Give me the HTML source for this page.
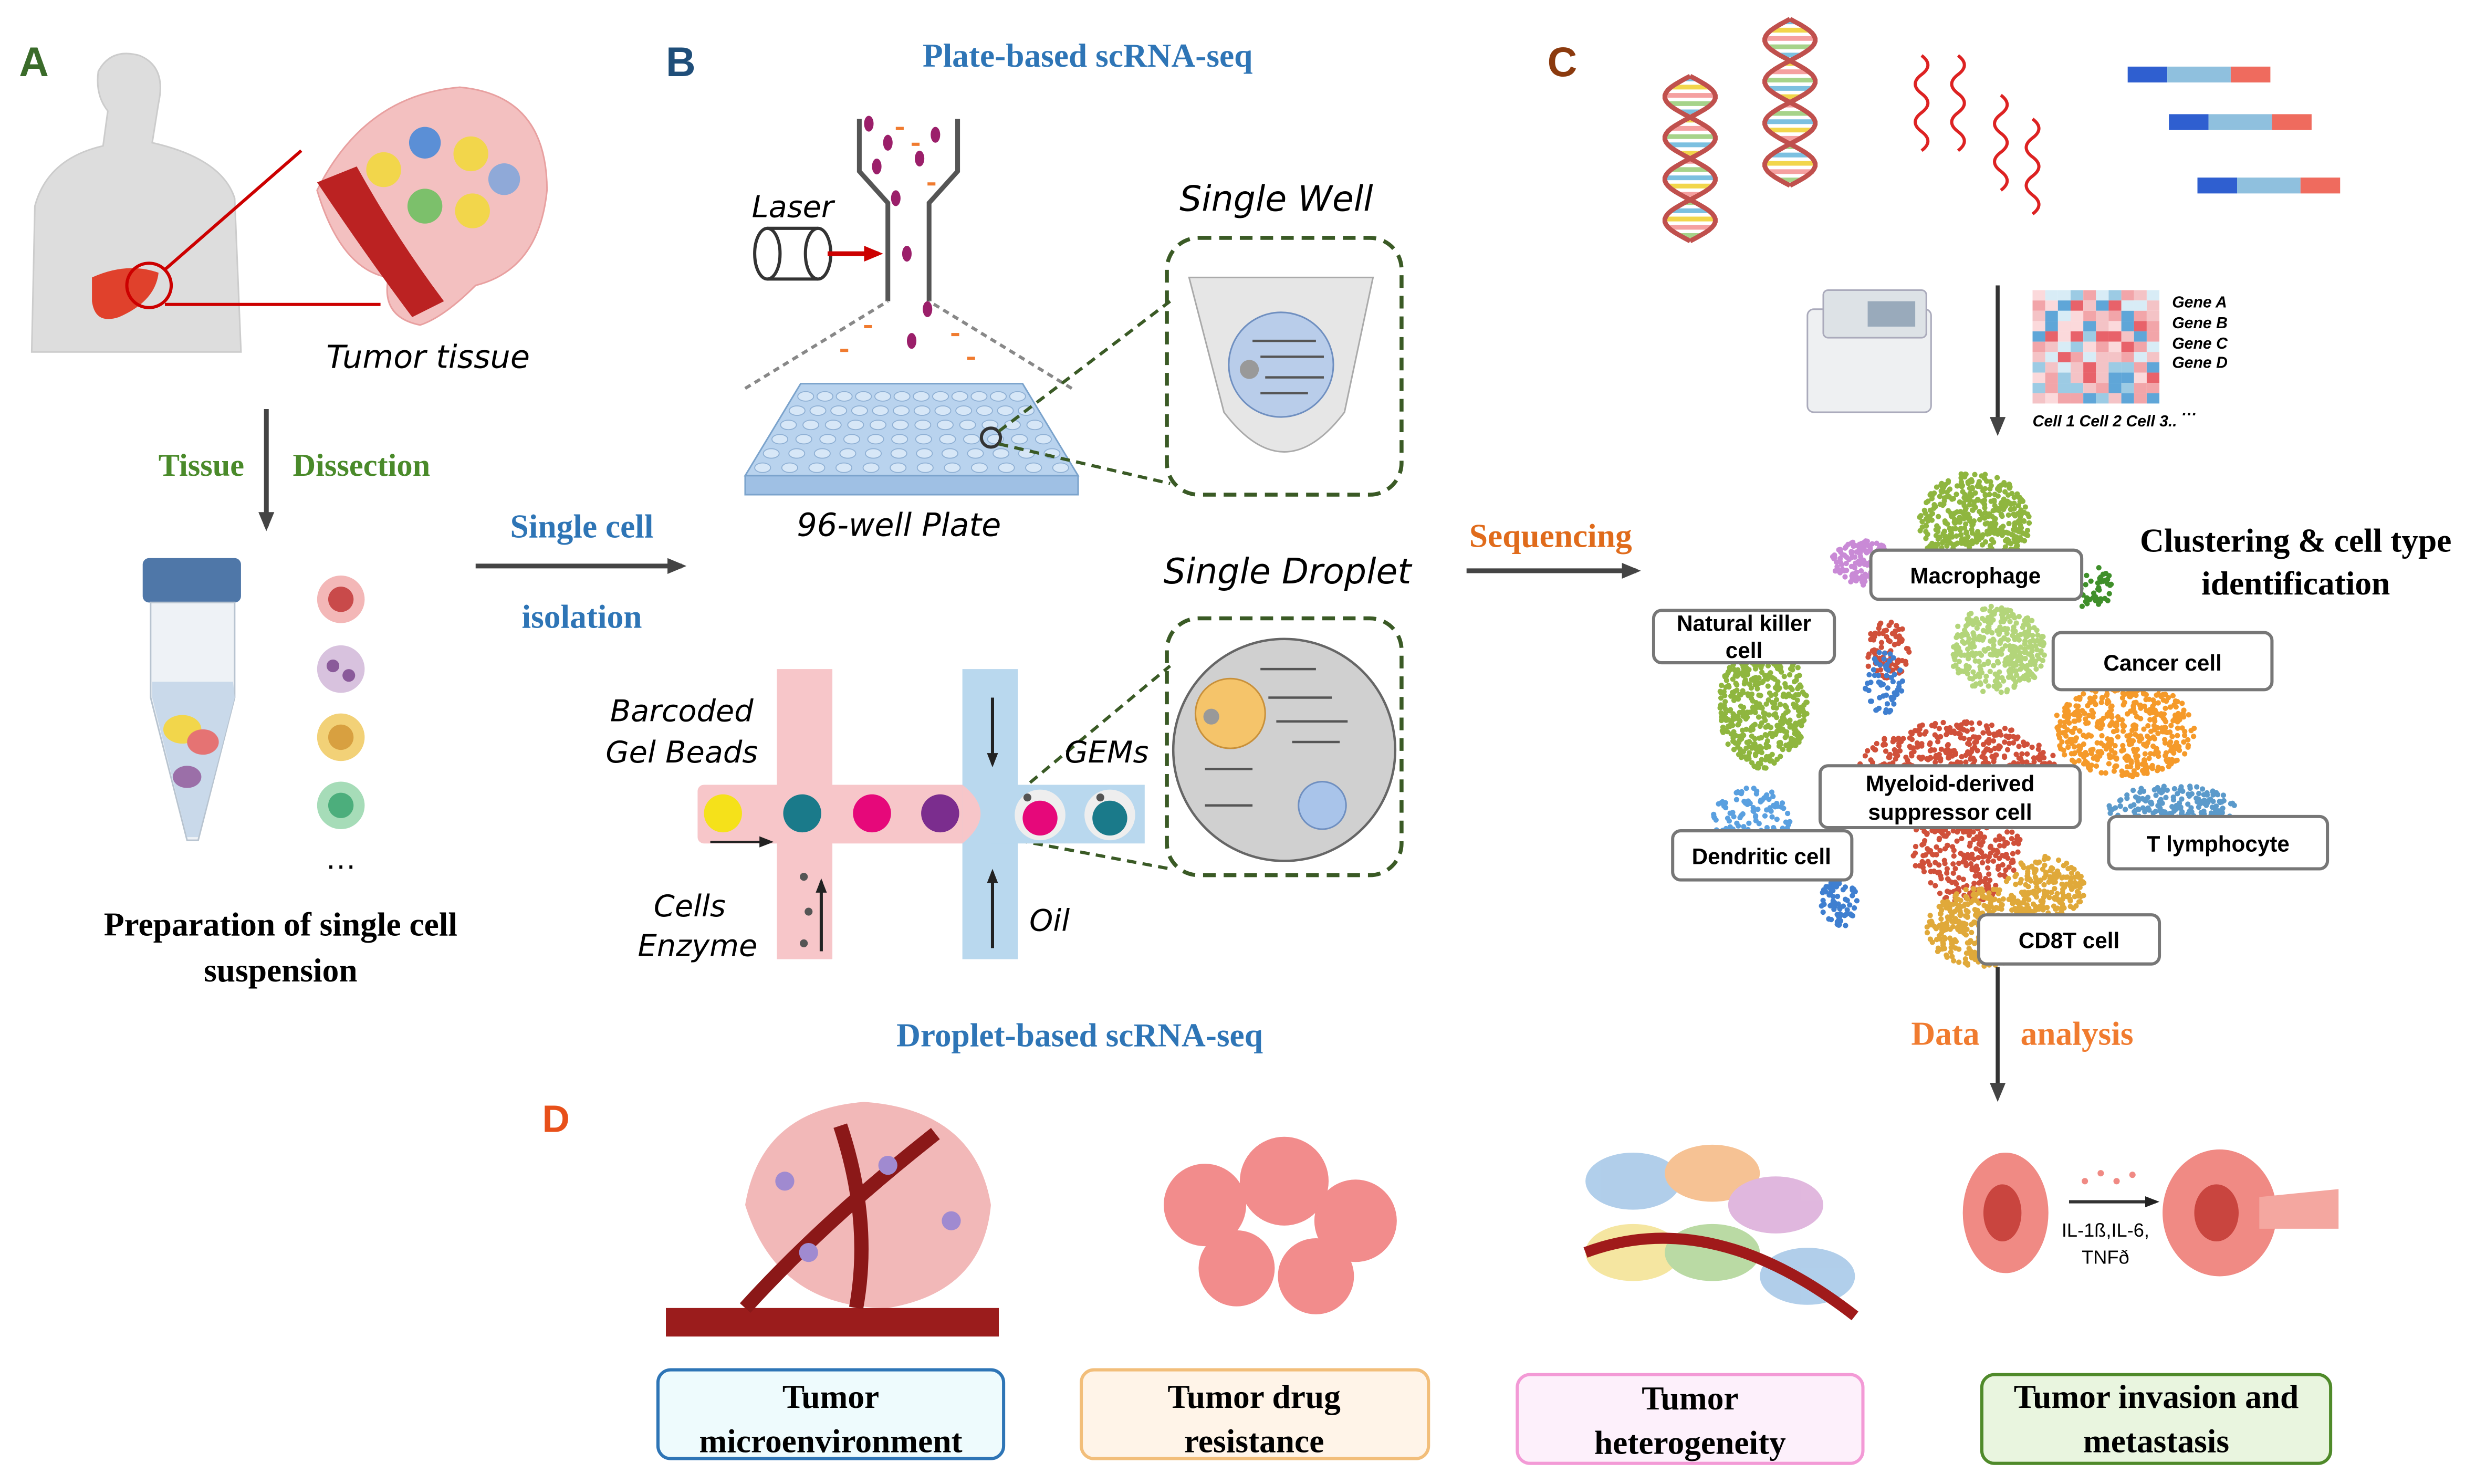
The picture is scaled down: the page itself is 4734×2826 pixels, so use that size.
<!DOCTYPE html>
<html><head><meta charset="utf-8"><style>
html,body{margin:0;padding:0;background:#fff;}
svg{display:block;}
.sf{font-family:"Liberation Serif",serif;font-weight:bold;}
.hand{font-family:"DejaVu Sans",sans-serif;font-style:italic;}
.lab{font-family:"Liberation Sans",sans-serif;font-weight:bold;font-size:14px;}
</style></head><body>
<svg id="s" width="4734" height="2826" viewBox="0 0 1568 936" xmlns="http://www.w3.org/2000/svg">
<defs>
<marker id="ah" markerWidth="12" markerHeight="12" refX="9" refY="6" orient="auto" markerUnits="userSpaceOnUse"><path d="M0,1 L12,6 L0,11 z" fill="#444"/></marker>
<marker id="ahs" markerWidth="9" markerHeight="9" refX="7" refY="4.5" orient="auto" markerUnits="userSpaceOnUse"><path d="M0,1 L9,4.5 L0,8 z" fill="#222"/></marker>
<marker id="ahr" markerWidth="12" markerHeight="12" refX="9" refY="6" orient="auto" markerUnits="userSpaceOnUse"><path d="M0,1 L12,6 L0,11 z" fill="#c00"/></marker>
</defs>
<!-- A -->
<text x="12" y="48" font-family="Liberation Sans" font-weight="bold" font-size="26" fill="#3a6b2a">A</text>
<path d="M20,222 L22,130 Q30,100 65,92 L68,70 Q60,60 62,45 Q70,30 88,35 Q105,42 100,65 L96,90 Q140,100 148,125 L152,222 Z" fill="#ddd" stroke="#ccc"/>
<path d="M58,175 Q80,165 100,172 Q98,190 75,200 Q60,205 58,190 Z" fill="#e0412c"/>
<circle cx="94" cy="180" r="14" fill="none" stroke="#c00" stroke-width="2"/>
<line x1="104" y1="170" x2="190" y2="95" stroke="#c00" stroke-width="2"/>
<line x1="104" y1="192" x2="240" y2="192" stroke="#c00" stroke-width="2"/>
<path d="M200,120 Q230,60 290,55 Q345,60 345,120 Q340,170 300,180 Q280,200 265,205 Q240,200 245,175 Q215,170 200,120 Z" fill="#f3c0c0" stroke="#e8a0a0"/>
<path d="M200,115 Q230,160 260,200 L280,190 Q250,150 225,105 Z" fill="#b22" />
<circle cx="242" cy="107" r="11" fill="#f2d64b"/><circle cx="268" cy="90" r="10" fill="#5b8fd6"/><circle cx="297" cy="97" r="11" fill="#f2d64b"/><circle cx="268" cy="130" r="11" fill="#7cc06b"/><circle cx="298" cy="133" r="11" fill="#f2d64b"/><circle cx="318" cy="113" r="10" fill="#8fa9d8"/>
<text x="270" y="232" class="hand" font-size="20" text-anchor="middle">Tumor tissue</text>
<line x1="168" y1="258" x2="168" y2="332" stroke="#444" stroke-width="3" marker-end="url(#ah)"/>
<text x="127" y="300" class="sf" font-size="20" fill="#4a8a2a" text-anchor="middle">Tissue</text>
<text x="228" y="300" class="sf" font-size="20" fill="#4a8a2a" text-anchor="middle">Dissection</text>
<rect x="90" y="352" width="62" height="28" rx="4" fill="#4f77a8"/>
<path d="M95,380 L148,380 L148,440 L125,530 L118,530 L95,440 Z" fill="#eef2f6" stroke="#b8c4d0"/>
<path d="M96,430 L147,430 L148,440 L125,528 L118,528 L96,440 Z" fill="#c9d9ea"/>
<ellipse cx="115" cy="460" rx="12" ry="9" fill="#f2d64b"/><ellipse cx="128" cy="468" rx="10" ry="8" fill="#e57373"/><ellipse cx="118" cy="490" rx="9" ry="7" fill="#9b6fa8"/>
<circle cx="215" cy="378" r="15" fill="#f3b7b7"/><circle cx="215" cy="378" r="8" fill="#c94a4a"/>
<circle cx="215" cy="422" r="15" fill="#d8c2de"/><circle cx="210" cy="420" r="4" fill="#8a5a9a"/><circle cx="220" cy="426" r="4" fill="#8a5a9a"/>
<circle cx="215" cy="465" r="15" fill="#f2d177"/><circle cx="215" cy="465" r="8" fill="#d8a040"/>
<circle cx="215" cy="508" r="15" fill="#a6dcb8"/><circle cx="215" cy="508" r="8" fill="#4cae7c"/>
<text x="215" y="548" font-size="20" text-anchor="middle" font-family="Liberation Sans">…</text>
<text x="177" y="590" class="sf" font-size="21" text-anchor="middle">Preparation of single cell</text>
<text x="177" y="619" class="sf" font-size="21" text-anchor="middle">suspension</text>
<line x1="300" y1="357" x2="430" y2="357" stroke="#444" stroke-width="3" marker-end="url(#ah)"/>
<text x="367" y="339" class="sf" font-size="21" fill="#2e75b6" text-anchor="middle">Single cell</text>
<text x="367" y="396" class="sf" font-size="21" fill="#2e75b6" text-anchor="middle">isolation</text>
<!-- B -->
<text x="420" y="48" font-family="Liberation Sans" font-weight="bold" font-size="26" fill="#1f4e79">B</text>
<text x="686" y="42" class="sf" font-size="21" fill="#2e75b6" text-anchor="middle">Plate-based scRNA-seq</text>
<path d="M542,75 L542,108 L560,128 L560,190 M604,75 L604,108 L586,128 L586,190" fill="none" stroke="#555" stroke-width="3"/>
<path d="M470,245 L560,190 M676,245 L586,190" stroke="#888" stroke-width="2" stroke-dasharray="4,3" fill="none"/>
<g fill="#9b1f6a"><ellipse cx="560" cy="90" rx="3" ry="5"/><ellipse cx="580" cy="100" rx="3" ry="5"/><ellipse cx="572" cy="160" rx="3" ry="5"/><ellipse cx="575" cy="215" rx="3" ry="5"/><ellipse cx="553" cy="105" rx="3" ry="5"/><ellipse cx="590" cy="85" rx="3" ry="5"/><ellipse cx="565" cy="125" rx="3" ry="5"/><ellipse cx="585" cy="195" rx="3" ry="5"/><ellipse cx="548" cy="78" rx="3" ry="5"/></g>
<g fill="#f07b2f"><rect x="565" y="80" width="5" height="2"/><rect x="585" y="115" width="5" height="2"/><rect x="600" y="210" width="5" height="2"/><rect x="545" y="205" width="5" height="2"/><rect x="575" y="90" width="5" height="2"/><rect x="610" y="225" width="5" height="2"/><rect x="530" y="220" width="5" height="2"/></g>
<text x="500" y="137" class="hand" font-size="19" text-anchor="middle">Laser</text>
<ellipse cx="484" cy="160" rx="8" ry="16" fill="#fff" stroke="#333" stroke-width="2"/>
<path d="M484,144 L516,144 M484,176 L516,176" stroke="#333" stroke-width="2"/>
<ellipse cx="516" cy="160" rx="8" ry="16" fill="#fff" stroke="#333" stroke-width="2"/>
<line x1="522" y1="160" x2="554" y2="160" stroke="#c00" stroke-width="3" marker-end="url(#ahr)"/>
<path d="M470,300 L505,242 L645,242 L680,300 Z" fill="#b9d3ee" stroke="#7ba3cc"/>
<rect x="470" y="300" width="210" height="12" fill="#9fc0e4" stroke="#7ba3cc"/>
<g id="wells" fill="#d7e7f7" stroke="#8fb0d4" stroke-width="0.6"></g>
<circle cx="625" cy="276" r="6" fill="none" stroke="#333" stroke-width="2"/>
<line x1="630" y1="272" x2="738" y2="190" stroke="#3a5a25" stroke-width="2" stroke-dasharray="6,4"/>
<line x1="630" y1="280" x2="738" y2="305" stroke="#3a5a25" stroke-width="2" stroke-dasharray="6,4"/>
<text x="567" y="338" class="hand" font-size="20" text-anchor="middle">96-well Plate</text>
<text x="805" y="133" class="hand" font-size="22" text-anchor="middle">Single Well</text>
<rect x="736" y="150" width="148" height="162" rx="20" fill="none" stroke="#3a5a25" stroke-width="2.5" stroke-dasharray="8,5"/>
<path d="M750,175 L866,175 L848,260 Q810,310 772,260 Z" fill="#e6e6e6" stroke="#aaa"/>
<circle cx="808" cy="230" r="33" fill="#b9cdea" stroke="#6f8fc0"/>
<circle cx="788" cy="233" r="6" fill="#999"/>
<g stroke-width="1.5"><line x1="790" y1="215" x2="830" y2="215" stroke="#555"/><line x1="795" y1="225" x2="835" y2="225" stroke="#555"/><line x1="798" y1="238" x2="835" y2="238" stroke="#555"/><line x1="795" y1="248" x2="825" y2="248" stroke="#555"/></g>
<text x="812" y="368" class="hand" font-size="22" text-anchor="middle">Single Droplet</text>
<rect x="736" y="390" width="148" height="162" rx="20" fill="none" stroke="#3a5a25" stroke-width="2.5" stroke-dasharray="8,5"/>
<circle cx="810" cy="473" r="70" fill="#d0d0d0" stroke="#666" stroke-width="1.5"/>
<circle cx="776" cy="450" r="22" fill="#f5c46a" stroke="#c8903a"/><circle cx="764" cy="452" r="5" fill="#999"/>
<circle cx="834" cy="508" r="15" fill="#a9c4ea" stroke="#6f8fc0"/>
<g stroke="#555" stroke-width="1.5"><line x1="795" y1="422" x2="830" y2="422"/><line x1="800" y1="440" x2="840" y2="440"/><line x1="805" y1="455" x2="850" y2="455"/><line x1="815" y1="468" x2="845" y2="468"/><line x1="760" y1="485" x2="790" y2="485"/><line x1="760" y1="508" x2="790" y2="508"/></g>
<line x1="642" y1="500" x2="738" y2="420" stroke="#3a5a25" stroke-width="2" stroke-dasharray="6,4"/>
<line x1="642" y1="530" x2="738" y2="548" stroke="#3a5a25" stroke-width="2" stroke-dasharray="6,4"/>
<!-- microfluidics -->
<rect x="490" y="422" width="35" height="183" fill="#f7c6c9"/>
<rect x="440" y="495" width="185" height="37" rx="4" fill="#f7c6c9"/>
<rect x="607" y="422" width="35" height="183" fill="#b9d8ee"/>
<rect x="625" y="495" width="97" height="37" fill="#b9d8ee"/>
<path d="M607,495 Q630,513 607,532" fill="#f7c6c9"/>
<circle cx="456" cy="513" r="12" fill="#f5e11a"/><circle cx="506" cy="513" r="12" fill="#1a7a8a"/><circle cx="550" cy="513" r="12" fill="#e6087a"/><circle cx="593" cy="513" r="12" fill="#7b2d8e"/>
<circle cx="656" cy="514" r="16" fill="#eee"/><circle cx="656" cy="516" r="11" fill="#e6087a"/>
<circle cx="700" cy="514" r="16" fill="#eee"/><circle cx="700" cy="516" r="11" fill="#1a7a8a"/>
<g fill="#555"><circle cx="507" cy="553" r="2.5"/><circle cx="510" cy="575" r="2.5"/><circle cx="507" cy="595" r="2.5"/><circle cx="648" cy="503" r="2.5"/><circle cx="694" cy="503" r="2.5"/></g>
<line x1="626" y1="440" x2="626" y2="482" stroke="#222" stroke-width="2" marker-end="url(#ahs)"/>
<line x1="626" y1="598" x2="626" y2="550" stroke="#222" stroke-width="2" marker-end="url(#ahs)"/>
<line x1="518" y1="600" x2="518" y2="556" stroke="#222" stroke-width="2" marker-end="url(#ahs)"/>
<line x1="448" y1="531" x2="486" y2="531" stroke="#222" stroke-width="1.5" marker-end="url(#ahs)"/>
<text x="430" y="455" class="hand" font-size="19" text-anchor="middle">Barcoded</text>
<text x="430" y="481" class="hand" font-size="19" text-anchor="middle">Gel Beads</text>
<text x="698" y="481" class="hand" font-size="19" text-anchor="middle">GEMs</text>
<text x="435" y="578" class="hand" font-size="19" text-anchor="middle">Cells</text>
<text x="440" y="603" class="hand" font-size="19" text-anchor="middle">Enzyme</text>
<text x="662" y="587" class="hand" font-size="19" text-anchor="middle">Oil</text>
<text x="681" y="660" class="sf" font-size="21" fill="#2e75b6" text-anchor="middle">Droplet-based scRNA-seq</text>
<text x="978" y="345" class="sf" font-size="21" fill="#e06b1b" text-anchor="middle">Sequencing</text>
<line x1="925" y1="360" x2="1032" y2="360" stroke="#444" stroke-width="3" marker-end="url(#ah)"/>
<!-- C -->
<text x="976" y="48" font-family="Liberation Sans" font-weight="bold" font-size="26" fill="#8b3a0e">C</text>
<g id="dna"></g>
<g fill="none" stroke="#d22" stroke-width="2">
<path d="M1212,35 q8,6 0,12 q-8,6 0,12 q8,6 0,12 q-8,6 0,12 q8,6 0,12 M1235,35 q8,6 0,12 q-8,6 0,12 q8,6 0,12 q-8,6 0,12 q8,6 0,12 M1262,60 q8,6 0,12 q-8,6 0,12 q8,6 0,12 q-8,6 0,12 q8,6 0,12 M1282,75 q8,6 0,12 q-8,6 0,12 q8,6 0,12 q-8,6 0,12 q8,6 0,12"/>
</g>
<g><rect x="1342" y="42" width="25" height="10" fill="#2f5fd0"/><rect x="1367" y="42" width="40" height="10" fill="#8fc0de"/><rect x="1407" y="42" width="25" height="10" fill="#ef6b5e"/>
<rect x="1368" y="72" width="25" height="10" fill="#2f5fd0"/><rect x="1393" y="72" width="40" height="10" fill="#8fc0de"/><rect x="1433" y="72" width="25" height="10" fill="#ef6b5e"/>
<rect x="1386" y="112" width="25" height="10" fill="#2f5fd0"/><rect x="1411" y="112" width="40" height="10" fill="#8fc0de"/><rect x="1451" y="112" width="25" height="10" fill="#ef6b5e"/></g>
<rect x="1140" y="195" width="78" height="65" rx="4" fill="#eef0f2" stroke="#aab"/>
<rect x="1150" y="183" width="65" height="30" rx="3" fill="#dde2e6" stroke="#aab"/><rect x="1178" y="190" width="30" height="16" fill="#9ab"/>
<line x1="1260" y1="180" x2="1260" y2="272" stroke="#333" stroke-width="2.5" marker-end="url(#ah)"/>
<g id="heat"></g>
<g font-family="Liberation Sans" font-style="italic" font-weight="bold" font-size="10"><text x="1370" y="194">Gene A</text><text x="1370" y="207">Gene B</text><text x="1370" y="220">Gene C</text><text x="1370" y="232">Gene D</text><text x="1376" y="262">…</text><text x="1282" y="269">Cell 1 Cell 2 Cell 3..</text></g>
<g id="dots"></g>
<g class="lab" text-anchor="middle">
<rect x="1180" y="347" width="133" height="31" rx="5" fill="#fff" stroke="#777" stroke-width="2"/><text x="1246" y="368">Macrophage</text>
<rect x="1043" y="385" width="114" height="33" rx="5" fill="#fff" stroke="#777" stroke-width="2"/><text x="1100" y="398">Natural killer</text><text x="1100" y="415">cell</text>
<rect x="1295" y="399" width="138" height="36" rx="5" fill="#fff" stroke="#777" stroke-width="2"/><text x="1364" y="423">Cancer cell</text>
<rect x="1148" y="483" width="164" height="39" rx="5" fill="#fff" stroke="#777" stroke-width="2"/><text x="1230" y="499">Myeloid-derived</text><text x="1230" y="517">suppressor cell</text>
<rect x="1055" y="524" width="113" height="31" rx="5" fill="#fff" stroke="#777" stroke-width="2"/><text x="1111" y="545">Dendritic cell</text>
<rect x="1330" y="515" width="138" height="33" rx="5" fill="#fff" stroke="#777" stroke-width="2"/><text x="1399" y="537">T lymphocyte</text>
<rect x="1248" y="577" width="114" height="31" rx="5" fill="#fff" stroke="#777" stroke-width="2"/><text x="1305" y="598">CD8T cell</text>
</g>
<text x="1448" y="348" class="sf" font-size="21" text-anchor="middle">Clustering &amp; cell type</text>
<text x="1448" y="375" class="sf" font-size="21" text-anchor="middle">identification</text>
<line x1="1260" y1="610" x2="1260" y2="692" stroke="#333" stroke-width="2.5" marker-end="url(#ah)"/>
<text x="1227" y="659" class="sf" font-size="21" fill="#f07b2f" text-anchor="middle">Data</text>
<text x="1310" y="659" class="sf" font-size="21" fill="#f07b2f" text-anchor="middle">analysis</text>
<!-- D -->
<text x="342" y="714" font-family="Liberation Sans" font-weight="bold" font-size="24" fill="#e8501a">D</text>
<path d="M470,760 Q480,700 545,695 Q615,700 625,760 Q620,815 560,825 Q490,825 470,760 Z" fill="#f2b8b8"/>
<rect x="420" y="825" width="210" height="18" fill="#9b1c1c"/>
<path d="M470,825 Q520,770 590,715 M540,825 Q550,770 530,710" stroke="#8b1818" stroke-width="9" fill="none"/>
<g fill="#a08ad0"><circle cx="495" cy="745" r="6"/><circle cx="560" cy="735" r="6"/><circle cx="600" cy="770" r="6"/><circle cx="510" cy="790" r="6"/></g>
<g fill="#f07878" opacity="0.85"><circle cx="760" cy="760" r="26"/><circle cx="810" cy="745" r="28"/><circle cx="855" cy="770" r="26"/><circle cx="780" cy="800" r="24"/><circle cx="830" cy="805" r="24"/></g>
<g opacity="0.8"><ellipse cx="1030" cy="745" rx="30" ry="18" fill="#9ec3e6"/><ellipse cx="1080" cy="740" rx="30" ry="18" fill="#f5b37a"/><ellipse cx="1120" cy="760" rx="30" ry="18" fill="#d9a6d6"/><ellipse cx="1030" cy="790" rx="30" ry="18" fill="#f3e08a"/><ellipse cx="1080" cy="790" rx="30" ry="18" fill="#a9d18e"/><ellipse cx="1140" cy="805" rx="30" ry="18" fill="#9ec3e6"/></g>
<path d="M1000,790 Q1080,760 1170,830" stroke="#a01a1a" stroke-width="7" fill="none"/>
<ellipse cx="1265" cy="765" rx="27" ry="38" fill="#f08a84"/><ellipse cx="1263" cy="765" rx="12" ry="18" fill="#c9453f"/>
<line x1="1305" y1="758" x2="1360" y2="758" stroke="#333" stroke-width="2" marker-end="url(#ahs)"/>
<g fill="#f08a84"><circle cx="1315" cy="745" r="2"/><circle cx="1325" cy="740" r="2"/><circle cx="1335" cy="745" r="2"/><circle cx="1345" cy="741" r="2"/></g>
<text x="1328" y="780" font-family="Liberation Sans" font-size="12" text-anchor="middle">IL-1ß,IL-6,</text><text x="1328" y="797" font-family="Liberation Sans" font-size="12" text-anchor="middle">TNFð</text>
<ellipse cx="1400" cy="765" rx="36" ry="40" fill="#f08a84"/><path d="M1425,755 L1475,750 L1475,775 L1425,775 Z" fill="#f4a7a0"/><ellipse cx="1398" cy="765" rx="14" ry="18" fill="#c9453f"/>
<g class="sf" font-size="21" text-anchor="middle">
<rect x="415" y="864" width="218" height="56" rx="8" fill="#eefbfd" stroke="#2e75b6" stroke-width="2"/><text x="524" y="888">Tumor</text><text x="524" y="916">microenvironment</text>
<rect x="682" y="864" width="219" height="56" rx="8" fill="#fff4e8" stroke="#f2be7a" stroke-width="2"/><text x="791" y="888">Tumor drug</text><text x="791" y="916">resistance</text>
<rect x="957" y="867" width="218" height="56" rx="8" fill="#fdf0fb" stroke="#f39ad6" stroke-width="2"/><text x="1066" y="889">Tumor</text><text x="1066" y="917">heterogeneity</text>
<rect x="1250" y="867" width="220" height="56" rx="8" fill="#e9f5df" stroke="#4f8a2a" stroke-width="2"/><text x="1360" y="888">Tumor invasion and</text><text x="1360" y="916">metastasis</text>
</g>
</svg>
<script>
var NS="http://www.w3.org/2000/svg";
function el(p,t,a){var e=document.createElementNS(NS,t);for(var k in a)e.setAttribute(k,a[k]);p.appendChild(e);return e;}
var w=document.getElementById("wells");
for(var r=0;r<6;r++)for(var c=0;c<12;c++){var y=250+r*9,t=(y-242)/58;var x0=505-35*t,x1=645+35*t;el(w,"ellipse",{cx:x0+8+c*(x1-x0-16)/11,cy:y,rx:5,ry:3});}
// DNA helices
var dg=document.getElementById("dna");
var rc=["#f2d64b","#7cc0e0","#a6d38a","#f5a0a0"];
function helix(cx,y0,y1,amp){var n=60,p1="",p2="";for(var i=0;i<=n;i++){var y=y0+(y1-y0)*i/n,ph=i/n*Math.PI*4;var a=cx+amp*Math.sin(ph),b=cx-amp*Math.sin(ph);p1+=(i?"L":"M")+a.toFixed(1)+","+y.toFixed(1);p2+=(i?"L":"M")+b.toFixed(1)+","+y.toFixed(1);
if(i%3==1){el(dg,"line",{x1:a,y1:y,x2:b,y2:y,stroke:rc[i%4],"stroke-width":3});}}
el(dg,"path",{d:p1,fill:"none",stroke:"#c0504d","stroke-width":3});el(dg,"path",{d:p2,fill:"none",stroke:"#c0504d","stroke-width":3});}
helix(1066,48,152,16);helix(1129,12,117,16);
var h=document.getElementById("heat");
var cols=["#e8626a","#f2a5a9","#fbd9db","#9ccbe4","#5fa6d8","#d8ecf6","#f4c3c6"];
var seed=3;function rnd(){seed=(seed*9301+49297)%233280;return seed/233280;}
for(var i=0;i<10;i++)for(var j=0;j<11;j++)el(h,"rect",{x:1282+i*8,y:183+j*6.5,width:8,height:6.5,fill:cols[Math.floor(rnd()*7)]});
var d=document.getElementById("dots");
function cl(cx,cy,rx,ry,n,col){for(var i=0;i<n;i++){var a=rnd()*6.283,r=Math.sqrt(rnd());el(d,"circle",{cx:cx+Math.cos(a)*r*rx,cy:cy+Math.sin(a)*r*ry,r:1.7,fill:col});}}
cl(1245,330,35,32,450,"#8fb63f");cl(1175,355,20,14,150,"#c98ad6");cl(1320,370,12,15,40,"#3f8f2a");
cl(1112,445,28,40,450,"#8fb63f");cl(1260,410,30,28,350,"#b3d57a");cl(1190,410,15,18,80,"#d0503a");
cl(1188,430,12,20,60,"#3f7fd0");cl(1235,490,65,35,750,"#d0503a");cl(1240,530,35,40,350,"#d0503a");
cl(1340,460,45,30,450,"#f59a2a");cl(1105,520,25,25,150,"#5aa0e0");cl(1160,570,12,15,70,"#3f7fd0");
cl(1370,510,40,15,220,"#5b9acb");cl(1250,585,35,25,350,"#e0a93a");cl(1290,560,25,20,200,"#e0a93a");
</script>
</body></html>
